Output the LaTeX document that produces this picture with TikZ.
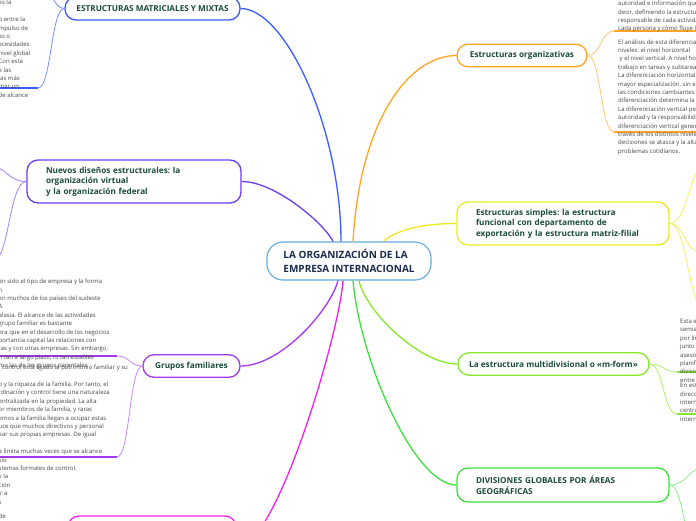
\documentclass[tikz,border=0pt]{standalone}
\usepackage{fontspec}
\setmainfont{Open Sans}
\frenchspacing
\definecolor{cmain}{HTML}{62A9DE}
\definecolor{ctext}{HTML}{1B2B4B}
\definecolor{ttext}{HTML}{1A4A3A}
\definecolor{ltext}{HTML}{454545}
\definecolor{cblue}{HTML}{3A5CFF}
\definecolor{cviolet}{HTML}{6B3EF2}
\definecolor{corange}{HTML}{FFA523}
\definecolor{cyellow}{HTML}{EFEA1C}
\definecolor{clime}{HTML}{86E82C}
\definecolor{cgreen}{HTML}{3CE03C}
\definecolor{cpurple}{HTML}{A238EE}
\definecolor{cmagenta}{HTML}{F020F0}
\tikzset{
  topic/.style={draw, fill=white, line width=1.3pt, rounded corners=11pt,
    font=\fontsize{8.2}{10.5}\selectfont\bfseries, text=ttext, minimum height=22.5pt},
  wide topic/.style={topic, align=left, text width=#1, inner xsep=19pt},
  leaf/.style={font=\fontsize{6}{8.4}\selectfont, text=ltext, inner sep=0pt,
    align=left, anchor=north west},
  main link/.style={line width=1.3pt},
  sub link/.style={line width=0.8pt},
  leaf rule/.style={line width=1.5pt},
}
\begin{document}
\begin{tikzpicture}[x=1pt, y=-1pt]
\useasboundingbox (0,0) rectangle (696,520);
\clip (0,0) rectangle (696,520);

% central topic
\node[topic, draw=cmain, line width=1.1pt, rounded corners=16pt, text=ctext,
  font=\fontsize{10}{13.3}\selectfont\bfseries, align=left,
  minimum width=164pt, minimum height=38pt] (central) at (349,261)
  {LA ORGANIZACIÓN DE LA\\EMPRESA INTERNACIONAL};

% main topics
\node[topic, draw=cblue, minimum width=175pt, minimum height=23pt] (matriz) at (152.5,8.5)
  {ESTRUCTURAS MATRICIALES Y MIXTAS};
\node[wide topic=176pt, draw=cviolet, minimum height=43pt] (nuevos) at (134,181.5)
  {Nuevos diseños estructurales: la\\organización virtual\\y la organización federal};
\node[topic, draw=corange, minimum width=130pt] (org) at (522,55.5)
  {Estructuras organizativas};
\node[wide topic=174pt, draw=cyellow, minimum height=43pt] (simple) at (563,223.5)
  {Estructuras simples: la estructura\\funcional con departamento de\\exportación y la estructura matriz-filial};
\node[topic, draw=clime, minimum width=191pt] (multi) at (553.5,364)
  {La estructura multidivisional o «m-form»};
\node[wide topic=174pt, draw=cgreen, minimum height=34pt] (geo) at (563,485)
  {DIVISIONES GLOBALES POR ÁREAS\\GEOGRÁFICAS};
\node[topic, draw=cpurple, minimum width=97pt] (fam) at (191.5,366)
  {Grupos familiares};
\node[topic, draw=cmagenta, minimum width=168pt, minimum height=64pt] (magenta) at (152,548) {};

% links from the central topic
\draw[main link, cblue] ([xshift=-8pt]central.north) .. controls +(0,-112) and +(45,0) .. (matriz.east);
\draw[main link, cviolet] ([xshift=-16pt]central.north) .. controls +(-8,-17) and +(34,0) .. (nuevos.east);
\draw[main link, corange] ([xshift=4pt]central.north) .. controls +(7,-122) and +(-47,0) .. (org.west);
\draw[main link, cyellow] ([xshift=34pt]central.north) .. controls +(17,-14) and +(-27,0) .. (simple.west);
\draw[main link, clime] ([xshift=10pt]central.south) .. controls +(6,30) and +(-38,0) .. (multi.west);
\draw[main link, cgreen] ([xshift=4pt]central.south) .. controls +(7,80) and +(-42,0) .. (geo.west);
\draw[main link, cpurple] ([xshift=-11pt]central.south) .. controls +(-8,30) and +(40,0) .. (fam.east);
\draw[main link, cmagenta] ([xshift=-6pt]central.south) .. controls +(-3,50) and +(40,0) .. (magenta.east);

% estructuras matriciales
\coordinate (matrizA) at (40,-15);
\coordinate (matrizB) at (38,88);
\draw[sub link, cblue!70] (matriz.west) .. controls +(-12.5,0) and +(12.5,0) .. (matrizA);
\draw[sub link, cblue!70] (matriz.west) .. controls +(-13.5,0) and +(13.5,0) .. (matrizB);
\draw[leaf rule, cblue] (matrizB) -- ++(-45,0);
\node[leaf] (matrizAtext) at (-1.5,-1.6) {\strut es la};
\node[leaf] (matrizBtext) at (-1.5,15.7) {\strut o entre la\\mpulso de\\as o\\ecesidades\\nivel global\\Con esta\\e las\\las más\\mar un\\de alcance};

% nuevos disenos
\coordinate (nuevosA) at (-12,166);
\coordinate (nuevosB) at (-8,262);
\draw[sub link, cviolet!65] (nuevos.west) .. controls +(-19.5,0) and +(19.5,0) .. (nuevosA);
\draw[sub link, cviolet!65] (nuevos.west) .. controls +(-17.5,0) and +(17.5,0) .. (nuevosB);

% estructuras organizativas
\coordinate (orgA) at (614,31);
\coordinate (orgB) at (614,132);
\foreach \c in {orgA,orgB} {
  \draw[sub link, corange!65] (org.east) .. controls +(13.5,0) and +(-13.5,0) .. (\c);
  \draw[leaf rule, corange] (\c) -- ++(90,0);
}
\node[leaf] (orgAtext) at (618,-0.3) {\strut autoridad e información que se\\decir, definiendo la estructura de\\responsable de cada actividad,\\cada persona y cómo fluye la};
\node[leaf] (orgBtext) at (618,38) {\strut El análisis de esta diferenciación se realiza en dos\\niveles: el nivel horizontal\\\hspace*{1.5pt}y el nivel vertical. A nivel horizontal se divide el\\trabajo en tareas y subtareas especializadas.\\La diferenciación horizontal permite una\\mayor especialización, sin embargo dificulta\\las condiciones cambiantes del entorno. La\\diferenciación determina la forma de\\La diferenciación vertical permite distribuir la\\autoridad y la responsabilidad dentro de\\diferenciación vertical genera una cadena\\través de los distintos niveles, la toma de\\decisiones se atasca y la alta dirección\\problemas cotidianos.};

% estructuras simples
\coordinate (simpleA) at (707,165);
\coordinate (simpleB) at (700,252);
\coordinate (simpleC) at (706,310);
\draw[sub link, cyellow!70] (simple.east) .. controls +(19,0) and +(-19,0) .. (simpleA);
\draw[sub link, cyellow!70] (simple.east) .. controls +(15.5,0) and +(-15.5,0) .. (simpleB);
\draw[sub link, cyellow!70] (simple.east) .. controls +(18.5,0) and +(-18.5,0) .. (simpleC);

% multidivisional
\coordinate (multiA) at (677,372);
\coordinate (multiB) at (677,414);
\foreach \c in {multiA,multiB} {
  \draw[sub link, clime!70] (multi.east) .. controls +(14,0) and +(-14,0) .. (\c);
  \draw[leaf rule, clime] (\c) -- ++(30,0);
}
\node[leaf] (multiAtext) at (680,317.4) {\strut Esta estructura divide la empresa\\semiautónomas\\por líneas de productos\\junto a la sede central\\asesoría y\\planificación\\divisiones\\entre las};
\node[leaf] (multiBtext) at (680,381.7) {\strut En esta estructura la\\dirección\\internacional\\centralizada\\internacional};

% divisiones geograficas
\coordinate (geoA) at (705,468);
\coordinate (geoB) at (697,545);
\draw[sub link, cgreen!60] (geo.east) .. controls +(18,0) and +(-18,0) .. (geoA);
\draw[sub link, cgreen!60] (geo.east) .. controls +(14,0) and +(-14,0) .. (geoB);

% grupos familiares
\coordinate (famA) at (117,356);
\coordinate (famB) at (117,457);
\foreach \c in {famA,famB} {
  \draw[sub link, cpurple!60] (fam.west) .. controls +(-13,0) and +(13,0) .. (\c);
  \draw[leaf rule, cpurple] (\c) -- ++(-125,0);
}
\node[leaf] (famAtext) at (-1.5,277.7) {\strut an sido el tipo de empresa y la forma\\n\\en muchos de los países del sudeste\\A\\alasia. El alcance de las actividades\\grupo familiar es bastante\\era que en el desarrollo de los negocios\\portancia capital las relaciones con\\tas y con otras empresas. Sin embargo,\\n tan a largo plazo, ni tan estables\\mo las de los grupos parentales};
\node[leaf] (famBtext) at (-1.5,363.7) {\strut l control está ligado al patrimonio familiar y su\\[8.4pt]o y la riqueza de la familia. Por tanto, el\\rdinación y control tiene una naturaleza\\entralizada en la propiedad. La alta\\or miembros de la familia, y raras\\emos a la familia llegan a ocupar estas\\uce que muchos directivos y personal\\ear sus propias empresas. De igual\\[8.4pt]a limita muchas veces que se alcance\\sio\\stemas formales de control.\\y la\\ción\\ir a\\s};
\node[leaf] (magentatext) at (-1.5,512.7) {\strut de};
\end{tikzpicture}
\end{document}
